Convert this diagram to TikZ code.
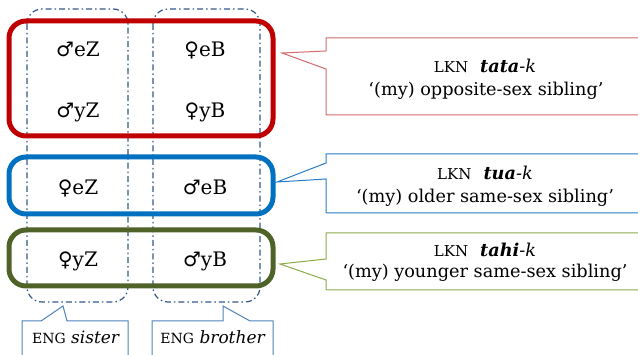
\documentclass[tikz,border=0pt]{standalone}
\usepackage{fontspec}
\setmainfont{DejaVu Serif}
\newfontfamily\symfont{DejaVu Sans}
\definecolor{bred}{HTML}{C00000}
\definecolor{bblue}{HTML}{0070C0}
\definecolor{bgreen}{HTML}{4F6228}
\definecolor{cred}{HTML}{D46A6C}
\definecolor{cblue}{HTML}{2A7CC8}
\definecolor{cgreen}{HTML}{8AAA4A}
\definecolor{ceng}{HTML}{4F81BD}
\definecolor{cdash}{HTML}{34578A}
\newcommand{\ma}{{\symfont ♂}}
\newcommand{\fe}{{\symfont ♀}}
\newcommand{\sctext}[1]{{\fontsize{15}{17}\selectfont #1}}
\newcommand{\sceng}[1]{{\fontsize{14}{16}\selectfont #1}}
\tikzset{
  groupbox/.style={line width=5pt, rounded corners=17pt},
  column/.style={draw=cdash, line width=1.2pt, rounded corners=15pt,
    dash pattern=on 6pt off 3pt on 1.5pt off 3pt},
  callout/.style={line width=1pt, fill=white},
  kin/.style={anchor=base, font=\fontsize{20}{24}\selectfont, inner sep=0pt},
  gloss/.style={anchor=base, font=\fontsize{17.7}{21}\selectfont, inner sep=0pt},
  engl/.style={anchor=base, font=\fontsize{17}{20}\selectfont, inner sep=0pt},
}
\begin{document}
\begin{tikzpicture}[x=1pt,y=-1pt]
\useasboundingbox (0,0) rectangle (638,355);
% dash-dot columns
\draw[column] (27,9) rectangle (128,302);
\draw[column] (153,9) rectangle (260,302);
% group boxes
\draw[groupbox, draw=bred] (9,21) rectangle (273,136);
\draw[groupbox, draw=bblue] (9,157) rectangle (273,214);
\draw[groupbox, draw=bgreen] (9,230) rectangle (273,286);
% kin labels
\node[kin] (meZ) at (78,57) {\ma eZ};
\node[kin] (feB) at (205,57) {\fe eB};
\node[kin] (myZ) at (78,118) {\ma yZ};
\node[kin] (fyB) at (205,118) {\fe yB};
\node[kin] (feZ) at (78,195) {\fe eZ};
\node[kin] (meB) at (205,195) {\ma eB};
\node[kin] (fyZ) at (78,267) {\fe yZ};
\node[kin] (myB) at (205,267) {\ma yB};
% right callouts
\draw[callout, draw=cred] (326,51) -- (282,53) -- (326,69) -- (326,115) -- (660,115) -- (660,38) -- (326,38) -- cycle;
\draw[callout, draw=cblue] (326,163) -- (277,182) -- (326,179) -- (326,213) -- (660,213) -- (660,154) -- (326,154) -- cycle;
\draw[callout, draw=cgreen] (326,259) -- (280,264) -- (326,280) -- (326,290) -- (660,290) -- (660,233) -- (326,233) -- cycle;
\node[gloss] (tata) at (485,73) {\sctext{LKN}\hspace{12pt}\textbf{\textit{tata}}-\textit{k}};
\node[gloss] (tataG) at (486,96) {‘(my) opposite-sex sibling’};
\node[gloss] (tua) at (485,180) {\sctext{LKN}\hspace{12pt}\textbf{\textit{tua}}-\textit{k}};
\node[gloss] (tuaG) at (485,203) {‘(my) older same-sex sibling’};
\node[gloss] (tahi) at (485,257) {\sctext{LKN}\hspace{12pt}\textbf{\textit{tahi}}-\textit{k}};
\node[gloss] (tahiG) at (485,278) {‘(my) younger same-sex sibling’};
% bottom callouts
\draw[callout, draw=ceng] (22,365) -- (22,321) -- (41,321) -- (63,306) -- (67,321) -- (128,321) -- (128,365);
\draw[callout, draw=ceng] (152,365) -- (152,321) -- (223,321) -- (223,306) -- (250,321) -- (273,321) -- (273,365);
\node[engl] (sis) at (76,344) {\sceng{ENG} \textit{sister}};
\node[engl] (bro) at (213,344) {\sceng{ENG} \textit{brother}};
\end{tikzpicture}
\end{document}
